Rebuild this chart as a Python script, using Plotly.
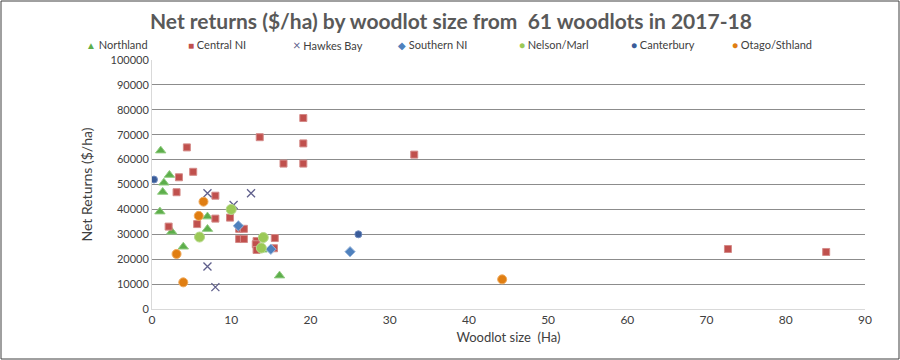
import plotly.graph_objects as go

# ---- data ----
northland_x = [1.1, 2.2, 1.5, 1.35, 1.0, 7.0, 7.0, 2.5, 3.95, 16.1, 13.9]
northland_y = [63600, 53800, 50700, 47000, 39100, 37100, 32100, 31000, 25000, 13400, 23800]

central_x = [4.4, 13.6, 19.1, 19.1, 16.6, 19.1, 5.2, 3.4, 3.1, 8.0, 8.0, 9.85, 5.7,
             11.0, 11.6, 2.1, 11.0, 11.6, 15.5, 13.2, 13.1, 13.2, 15.4, 33.1, 72.7, 85.1]
central_y = [64900, 69000, 76700, 66500, 58400, 58400, 55100, 52900, 46900, 45500, 36300, 36700, 34100,
             32200, 32200, 33100, 28100, 28100, 28500, 27300, 26000, 23700, 24400, 62000, 24100, 22900]

hawkes_x = [7.0, 12.5, 10.3, 7.0, 8.0]
hawkes_y = [46500, 46500, 41800, 17100, 8800]

southern_x = [10.9, 15.0, 25.0]
southern_y = [33400, 24000, 23000]

nelson_x = [10.0, 6.0, 14.05, 13.8]
nelson_y = [40000, 28900, 28700, 24500]

canterbury_x = [0.25, 26.05]
canterbury_y = [52000, 30000]

otago_x = [6.5, 5.9, 3.1, 3.95, 44.2]
otago_y = [43100, 37400, 22100, 10700, 11900]

x_ticks = [0, 10, 20, 30, 40, 50, 60, 70, 80, 90]
y_ticks = [0, 10000, 20000, 30000, 40000, 50000, 60000, 70000, 80000, 90000, 100000]

FONT = "Lato"
L, R, T, B = 152, 35, 60, 51
PW, PH = 900 - L - R, 360 - T - B

fig = go.Figure()

series = [
    ("Northland", northland_x, northland_y, "▲",
     dict(symbol="triangle-up", size=9, color="#5DAE4B", line=dict(color="#8FCB7F", width=1))),
    ("Central NI", central_x, central_y, "■",
     dict(symbol="square", size=7, color="#C0504D", line=dict(color="#D48A88", width=1))),
    ("Hawkes Bay", hawkes_x, hawkes_y, "×",
     dict(symbol="x-thin", size=8, color="#5F5F8C", line=dict(color="#5F5F8C", width=1.3))),
    ("Southern NI", southern_x, southern_y, "◆",
     dict(symbol="diamond", size=8, color="#4F81BD", line=dict(color="#9DB9DD", width=1))),
    ("Nelson/Marl", nelson_x, nelson_y, "●",
     dict(symbol="circle", size=10, color="#9BC957", line=dict(color="#B7D98A", width=1))),
    ("Canterbury", canterbury_x, canterbury_y, "●",
     dict(symbol="circle", size=7, color="#3A5C99", line=dict(color="#6F8BBF", width=1))),
    ("Otago/Sthland", otago_x, otago_y, "●",
     dict(symbol="circle", size=9, color="#E07E12", line=dict(color="#F0A95A", width=1))),
]

for name, xs, ys, glyph, mk in series:
    fig.add_trace(go.Scatter(x=xs, y=ys, mode="markers", name=name, marker=mk, showlegend=False))

# legend drawn as text annotations (left pixel position of each entry)
legend_px = [84, 186, 291, 396, 517, 629, 730]
for (name, xs, ys, glyph, mk), px in zip(series, legend_px):
    gsize = 13 if glyph == "×" else 10
    fig.add_annotation(
        xref="paper", yref="paper", x=(px - L) / PW, y=(309 - 45) / PH,
        xanchor="left", yanchor="middle", showarrow=False,
        text=f"<span style='color:{mk['color']};font-size:{gsize}px'>{glyph}</span> {name}",
        font=dict(family=FONT, size=11, color="#404040"))

fig.update_layout(
    width=900, height=360,
    margin=dict(l=L, r=R, t=T, b=B, autoexpand=False),
    paper_bgcolor="white", plot_bgcolor="white",
    font=dict(family=FONT, color="#404040", size=11),
    title=dict(text="<b>Net returns ($/ha) by woodlot size from  61 woodlots in 2017-18</b>",
               x=0.501, xanchor="center", xref="container", y=1 - 22 / 360, yanchor="middle",
               yref="container", font=dict(family=FONT, size=21, color="#595959")),
    showlegend=False,
    xaxis=dict(range=[0, 90], tickvals=x_ticks, showgrid=False, zeroline=False,
               showline=True, linecolor="#D9D9D9", linewidth=1, automargin=False,
               ticks="", tickfont=dict(size=12, color="#404040"),
               title=dict(text="Woodlot size  (Ha)", font=dict(size=13, color="#404040"), standoff=6)),
    yaxis=dict(range=[0, 100000], tickvals=y_ticks, tickformat="d", automargin=False,
               showgrid=True, gridcolor="#8C8C8C", gridwidth=1, zeroline=False,
               showline=True, linecolor="#D9D9D9", linewidth=1,
               ticks="", tickfont=dict(size=11, color="#404040"),
               title=dict(text="Net Returns ($/ha)", font=dict(size=14, color="#404040"), standoff=14)),
)

# outer chart border
fig.add_shape(type="rect", xref="paper", yref="paper",
              x0=(1 - L) / PW, x1=(899 - L) / PW,
              y0=(309 - 359) / PH, y1=(309 - 1) / PH,
              line=dict(color="#404040", width=1), fillcolor="rgba(0,0,0,0)", layer="below")

fig.write_html("out.html", config={"displayModeBar": False},
               post_script="document.body.style.margin='0px';document.body.style.overflow='hidden';")
